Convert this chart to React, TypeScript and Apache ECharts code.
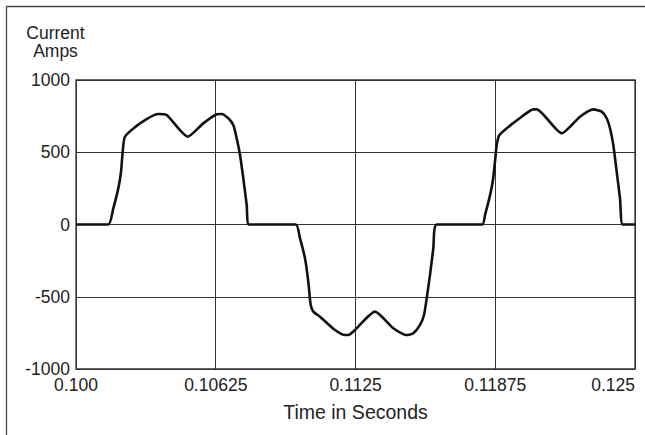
import React, { useEffect, useRef } from "react";
import * as echarts from "echarts";

const timeMs: number[] = [
  0, 1.445, 1.668, 1.892, 2.013, 2.089, 2.191, 2.862, 3.681, 4.056, 4.995, 5.693, 6.292, 6.516,
  6.811, 7.035, 7.187, 7.335, 7.482, 7.634, 7.737, 9.826, 10.018, 10.242, 10.389, 10.497, 10.613,
  10.912, 11.583, 12.03, 12.254, 12.478, 13.372, 14.191, 14.79, 15.085, 15.385, 15.564, 15.684,
  15.832, 15.98, 16.132, 18.171, 18.292, 18.484, 18.636, 18.739, 18.815, 18.932, 19.262, 19.933,
  20.452, 20.604, 21.722, 22.54, 23.135, 23.511, 23.735, 23.882, 24.03, 24.182, 24.329, 24.45, 25,
];
const currentAmps: number[] = [
  0, 0, 112, 250, 365, 504, 608, 700, 765, 758, 608, 700, 763, 765,
  735, 689, 597, 481, 320, 135, 0, 0, -96, -234, -396, -557, -603,
  -638, -730, -765, -760, -730, -603, -718, -765, -753, -695, -626, -511,
  -349, -165, 0, 0, 66, 181, 296, 435, 550, 619, 666, 746,
  797, 797, 631, 746, 797, 781, 735, 666, 550, 365, 181, 0, 0,
];
const xTickLabels: string[] = ["0.100", "0.10625", "0.1125", "0.11875", "0.125"];
const yTickLabels: string[] = ["-1000", "-500", "0", "500", "1000"];
const yNameLines: string[] = ["Current", "Amps"];

const FONT = "'Liberation Sans', Arial, sans-serif";

export default function App() {
  const ref = useRef<HTMLDivElement>(null);
  useEffect(() => {
    document.body.style.margin = "0";
    if (!ref.current) return;
    const chart = echarts.init(ref.current, undefined, { renderer: "svg" });
    const data = timeMs.map((t, i) => [0.1 + t / 1000, currentAmps[i]]);
    chart.setOption({
      animation: false,
      textStyle: { fontFamily: FONT },
      grid: {
        left: 76,
        top: 80,
        width: 559,
        height: 289,
        show: true,
        borderColor: "#333",
        borderWidth: 1.3,
        containLabel: false,
        outerBoundsMode: "none",
      },
      xAxis: {
        type: "value",
        min: 0.1,
        max: 0.125,
        interval: 0.00625,
        name: "Time in Seconds",
        nameLocation: "middle",
        nameGap: 33,
        nameTextStyle: { fontSize: 19.5, color: "#222", fontFamily: FONT },
        axisLine: { show: false },
        axisTick: { show: false },
        axisLabel: {
          fontSize: 17.5,
          color: "#222",
          margin: 7,
          fontFamily: FONT,
          alignMaxLabel: "right",
          formatter: (v: number) => xTickLabels[Math.round((v - 0.1) / 0.00625)] ?? "",
        },
        splitLine: { show: true, lineStyle: { color: "#333", width: 1 } },
      },
      yAxis: {
        type: "value",
        min: -1000,
        max: 1000,
        interval: 500,
        axisLine: { show: false },
        axisTick: { show: false },
        axisLabel: {
          fontSize: 17.5,
          color: "#222",
          margin: 6,
          fontFamily: FONT,
          formatter: (v: number) => yTickLabels[Math.round((v + 1000) / 500)] ?? "",
        },
        splitLine: { show: true, lineStyle: { color: "#333", width: 1 } },
      },
      graphic: [
        { type: "line", shape: { x1: 6.5, y1: 6.5, x2: 645, y2: 6.5 }, style: { stroke: "#444", lineWidth: 1.3 } },
        { type: "line", shape: { x1: 6.5, y1: 6.5, x2: 6.5, y2: 435 }, style: { stroke: "#444", lineWidth: 1.3 } },
        ...yNameLines.map((line, i) => ({
          type: "text",
          x: 55.5,
          y: 24.5 + i * 18,
          style: {
            text: line,
            fontSize: 17.5,
            lineHeight: 17.5,
            fill: "#222",
            fontFamily: FONT,
            align: "center",
            verticalAlign: "top",
          },
        })),
      ],
      series: [
        {
          type: "line",
          data,
          showSymbol: false,
          smooth: 0.2,
          lineStyle: { color: "#111", width: 2.6 },
          z: 5,
        },
      ],
    });
    return () => chart.dispose();
  }, []);
  return <div ref={ref} style={{ width: 645, height: 435 }} />;
}
